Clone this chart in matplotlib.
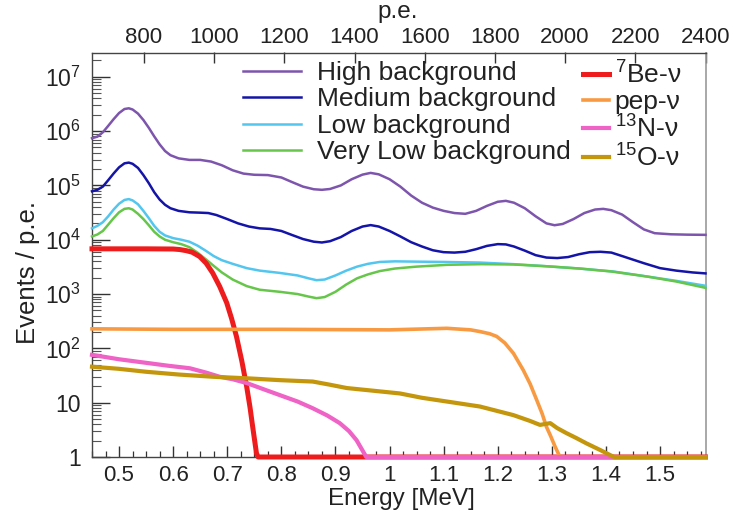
import math
import matplotlib
matplotlib.use("Agg")
import matplotlib.pyplot as plt
from matplotlib.ticker import FixedLocator, MultipleLocator, LogLocator, FuncFormatter, NullFormatter

plt.rcParams['font.family'] = ['Liberation Sans', 'DejaVu Sans']
plt.rcParams['mathtext.fontset'] = 'custom'
plt.rcParams['mathtext.rm'] = 'Liberation Sans'
plt.rcParams['mathtext.it'] = 'Liberation Sans:italic'

# ---------------- data ----------------
high_E = [0.45, 0.46, 0.47, 0.48, 0.49, 0.50, 0.51, 0.518, 0.525, 0.535, 0.545, 0.555, 0.565,
          0.575, 0.585, 0.595, 0.61, 0.63, 0.65, 0.67, 0.69, 0.71, 0.73, 0.75, 0.775, 0.80,
          0.82, 0.84, 0.86, 0.875, 0.89, 0.91, 0.93, 0.95, 0.965, 0.98, 1.0, 1.02, 1.04, 1.06,
          1.08, 1.10, 1.12, 1.14, 1.16, 1.18, 1.20, 1.215, 1.23, 1.25, 1.27, 1.29, 1.305, 1.32,
          1.34, 1.36, 1.38, 1.395, 1.41, 1.43, 1.45, 1.47, 1.49, 1.52, 1.55, 1.584]
high_v = [7.4e5, 7.9e5, 9.5e5, 1.25e6, 1.66e6, 2.15e6, 2.55e6, 2.63e6, 2.5e6, 2.1e6, 1.6e6,
          1.15e6, 8.0e5, 5.7e5, 4.3e5, 3.6e5, 3.15e5, 2.95e5, 2.95e5, 2.75e5, 2.35e5, 1.9e5,
          1.65e5, 1.57e5, 1.55e5, 1.4e5, 1.15e5, 9.5e4, 8.5e4, 8.3e4, 8.6e4, 1.0e5, 1.3e5,
          1.58e5, 1.7e5, 1.6e5, 1.3e5, 9.5e4, 6.5e4, 4.8e4, 3.9e4, 3.4e4, 3.1e4, 3.0e4, 3.4e4,
          4.2e4, 5.0e4, 5.2e4, 4.8e4, 3.8e4, 2.7e4, 2.0e4, 1.85e4, 1.95e4, 2.4e4, 3.1e4, 3.6e4,
          3.7e4, 3.5e4, 2.9e4, 2.1e4, 1.55e4, 1.32e4, 1.26e4, 1.24e4, 1.23e4]

med_E = [0.45, 0.46, 0.47, 0.48, 0.49, 0.50, 0.51, 0.518, 0.525, 0.535, 0.545, 0.555, 0.565,
         0.575, 0.585, 0.595, 0.61, 0.63, 0.65, 0.665, 0.68, 0.70, 0.72, 0.74, 0.76, 0.78, 0.80,
         0.82, 0.84, 0.86, 0.875, 0.89, 0.91, 0.93, 0.95, 0.965, 0.98, 1.0, 1.02, 1.04, 1.06,
         1.08, 1.10, 1.12, 1.14, 1.16, 1.18, 1.20, 1.215, 1.23, 1.25, 1.27, 1.29, 1.31, 1.33,
         1.35, 1.37, 1.39, 1.41, 1.43, 1.45, 1.47, 1.50, 1.53, 1.56, 1.584]
med_v = [7.8e4, 8.3e4, 9.5e4, 1.25e5, 1.66e5, 2.15e5, 2.55e5, 2.63e5, 2.5e5, 2.1e5, 1.55e5,
         1.1e5, 7.5e4, 5.5e4, 4.4e4, 3.8e4, 3.4e4, 3.2e4, 3.15e4, 3.1e4, 2.85e4, 2.4e4, 2.0e4,
         1.75e4, 1.62e4, 1.58e4, 1.45e4, 1.22e4, 1.03e4, 9.2e3, 8.9e3, 9.4e3, 1.12e4, 1.45e4,
         1.75e4, 1.86e4, 1.75e4, 1.45e4, 1.15e4, 9.0e3, 7.5e3, 6.4e3, 5.9e3, 5.8e3, 6.0e3,
         6.7e3, 7.7e3, 8.3e3, 8.2e3, 7.5e3, 6.3e3, 5.2e3, 4.7e3, 4.6e3, 4.8e3, 5.4e3, 5.9e3,
         6.0e3, 5.8e3, 5.0e3, 4.3e3, 3.7e3, 3.0e3, 2.7e3, 2.5e3, 2.4e3]

low_E = [0.45, 0.46, 0.47, 0.48, 0.49, 0.50, 0.51, 0.518, 0.525, 0.535, 0.545, 0.555, 0.565,
         0.575, 0.585, 0.60, 0.615, 0.63, 0.645, 0.66, 0.675, 0.69, 0.71, 0.736, 0.76, 0.797,
         0.83, 0.85, 0.865, 0.88, 0.90, 0.92, 0.94, 0.96, 0.982, 1.01, 1.05, 1.10, 1.167, 1.23,
         1.29, 1.35, 1.414, 1.47, 1.53, 1.584]
low_v = [1.62e4, 1.8e4, 2.1e4, 2.7e4, 3.6e4, 4.6e4, 5.4e4, 5.6e4, 5.3e4, 4.5e4, 3.4e4, 2.5e4,
         1.8e4, 1.4e4, 1.2e4, 1.07e4, 1.0e4, 9.2e3, 7.8e3, 6.3e3, 5.0e3, 4.2e3, 3.6e3, 3.0e3,
         2.7e3, 2.45e3, 2.2e3, 1.95e3, 1.8e3, 1.85e3, 2.2e3, 2.7e3, 3.2e3, 3.6e3, 3.9e3, 4.0e3,
         3.95e3, 3.9e3, 3.8e3, 3.55e3, 3.25e3, 2.95e3, 2.6e3, 2.15e3, 1.75e3, 1.42e3]

vlow_E = [0.45, 0.46, 0.47, 0.48, 0.49, 0.50, 0.51, 0.518, 0.525, 0.535, 0.545, 0.555, 0.565,
          0.575, 0.585, 0.60, 0.615, 0.63, 0.645, 0.66, 0.675, 0.69, 0.71, 0.736, 0.76, 0.797,
          0.83, 0.85, 0.865, 0.88, 0.90, 0.92, 0.94, 0.96, 0.982, 1.01, 1.05, 1.106, 1.17,
          1.229, 1.29, 1.352, 1.41, 1.476, 1.53, 1.584]
vlow_v = [1.15e4, 1.25e4, 1.45e4, 1.9e4, 2.5e4, 3.2e4, 3.7e4, 3.8e4, 3.6e4, 3.0e4, 2.4e4,
          1.85e4, 1.4e4, 1.15e4, 1.0e4, 9.0e3, 8.3e3, 7.3e3, 5.8e3, 4.4e3, 3.3e3, 2.5e3, 1.85e3,
          1.4e3, 1.2e3, 1.1e3, 1.0e3, 900, 840, 880, 1.1e3, 1.5e3, 1.95e3, 2.3e3, 2.65e3,
          2.95e3, 3.2e3, 3.45e3, 3.55e3, 3.5e3, 3.25e3, 2.95e3, 2.6e3, 2.1e3, 1.7e3, 1.3e3]

be7_E = [0.45, 0.55, 0.60, 0.612, 0.624, 0.635, 0.649, 0.661, 0.673, 0.686, 0.699, 0.708,
         0.717, 0.727, 0.736, 0.742, 0.747, 0.754, 0.757, 1.584]
be7_v = [6.8e3, 6.8e3, 6.75e3, 6.6e3, 6.3e3, 5.9e3, 4.9e3, 3.7e3, 2.45e3, 1.38e3, 690, 355,
         166, 58, 19.5, 8.3, 3.6, 1.17, 1, 1]

pep_E = [0.45, 0.60, 0.80, 1.0, 1.106, 1.15, 1.167, 1.185, 1.198, 1.213, 1.229, 1.247, 1.26,
         1.272, 1.282, 1.29, 1.298, 1.306, 1.315, 1.584]
pep_v = [229, 224, 224, 219, 234, 219, 204, 186, 166, 126, 81, 40, 22, 11.2, 6.3, 3.6, 2.4,
         1.55, 1, 1]

n13_E = [0.45, 0.50, 0.551, 0.59, 0.631, 0.66, 0.686, 0.71, 0.736, 0.765, 0.797, 0.83, 0.858,
         0.885, 0.908, 0.925, 0.939, 0.95, 0.957, 1.584]
n13_v = [76, 63, 54, 48, 43, 36, 30, 27, 23, 18, 13.8, 10.5, 7.9, 5.8, 4.2, 3.0, 2.04, 1.32, 1,
         1]

o15_E = [0.45, 0.50, 0.551, 0.61, 0.674, 0.74, 0.797, 0.858, 0.89, 0.921, 0.97, 1.019, 1.06,
         1.106, 1.167, 1.229, 1.26, 1.278, 1.297, 1.31, 1.327, 1.345, 1.364, 1.389, 1.405,
         1.415, 1.584]
o15_v = [46, 42, 37, 33, 30, 28, 26, 24.5, 21.4, 18.6, 16.6, 14.8, 12.3, 10.5, 8.5, 5.9, 4.6,
         3.9, 4.2, 3.4, 2.75, 2.24, 1.78, 1.35, 1.12, 1, 1]

bkg_labels = ["High background", "Medium background", "Low background", "Very Low background"]
sig_labels = [r"$^{7}$Be-ν", "pep-ν", r"$^{13}$N-ν", r"$^{15}$O-ν"]

x_ticks = [0.5, 0.6, 0.7, 0.8, 0.9, 1.0, 1.1, 1.2, 1.3, 1.4, 1.5]
pe_ticks = [800, 1000, 1200, 1400, 1600, 1800, 2000, 2200, 2400]
y_ticks = [1, 10, 1e2, 1e3, 1e4, 1e5, 1e6, 1e7]

# ---------------- figure ----------------
W, H = 733, 518
fig = plt.figure(figsize=(W / 100, H / 100), dpi=100)
L, R, T, B = 92, 705.5, 52.5, 457
ax = fig.add_axes([L / W, 1 - B / H, (R - L) / W, (B - T) / H])

E_MIN, E_MAX = 0.45, 1.584
PE_MIN, PE_MAX = 652, 2400

tc = '#222222'
bkg_series = [(high_E, high_v, '#7d55ad'), (med_E, med_v, '#1414a8'),
              (low_E, low_v, '#52c6ef'), (vlow_E, vlow_v, '#66c64a')]
sig_series = [(be7_E, be7_v, '#ee1c1c', 3.6), (pep_E, pep_v, '#f89a42', 2.6),
              (n13_E, n13_v, '#ef62c6', 3.0), (o15_E, o15_v, '#c4960c', 3.0)]

bkg_lines = []
for (e, v, c), lab in zip(bkg_series, bkg_labels):
    ln, = ax.plot(e, v, color=c, lw=1.8, label=lab, clip_on=False, zorder=3,
                  solid_joinstyle='round')
    bkg_lines.append(ln)
sig_lines = []
for (e, v, c, lw), lab in zip(sig_series, sig_labels):
    ln, = ax.plot(e, v, color=c, lw=lw, label=lab, clip_on=False, zorder=4,
                  solid_joinstyle='round')
    sig_lines.append(ln)

ax.set_yscale('log')
ax.set_xlim(E_MIN, E_MAX)
ax.set_ylim(1, 2.8e7)

ax.xaxis.set_major_locator(FixedLocator(x_ticks))
ax.xaxis.set_minor_locator(MultipleLocator(0.025))
ax.xaxis.set_major_formatter(FuncFormatter(lambda v, p: f"{v:g}"))


def yfmt(v, p):
    if v < 1.5:
        return "1"
    if v < 15:
        return "10"
    return r"$10^{%d}$" % int(round(math.log10(v)))


ax.yaxis.set_major_locator(FixedLocator(y_ticks))
ax.yaxis.set_minor_locator(LogLocator(base=10, subs=[2, 3, 4, 5, 6, 7, 8, 9], numticks=20))
ax.yaxis.set_major_formatter(FuncFormatter(yfmt))
ax.yaxis.set_minor_formatter(NullFormatter())

ax.tick_params(axis='x', which='major', direction='in', length=8, width=1, color='#333',
               labelsize=16, pad=6, top=False, labelcolor=tc)
ax.tick_params(axis='x', which='minor', direction='in', length=4, width=0.9, color='#333',
               top=False)
ax.tick_params(axis='y', which='major', direction='in', length=13, width=1, color='#333',
               labelsize=16.5, pad=8, right=False, labelcolor=tc)
ax.tick_params(axis='y', which='minor', direction='in', length=6.5, width=0.8, color='#555',
               right=False)

for s in ['left', 'bottom', 'top']:
    ax.spines[s].set_color('#444')
    ax.spines[s].set_linewidth(1.0)
ax.spines['right'].set_color('#999')
ax.spines['right'].set_linewidth(1.2)


def e2pe(e):
    return PE_MIN + (e - E_MIN) * (PE_MAX - PE_MIN) / (E_MAX - E_MIN)


def pe2e(p):
    return E_MIN + (p - PE_MIN) * (E_MAX - E_MIN) / (PE_MAX - PE_MIN)


sec = ax.secondary_xaxis('top', functions=(e2pe, pe2e))
sec.set_xticks(pe_ticks)
sec.xaxis.set_major_formatter(FuncFormatter(lambda v, p: f"{v:.0f}"))
sec.tick_params(axis='x', which='major', direction='in', length=8, width=1, color='#333',
                labelsize=16, pad=3, labelcolor=tc)
sec.tick_params(axis='x', which='minor', length=0)
sec.spines['top'].set_visible(False)

fig.text(401 / W, 1 - 499 / H, "Energy [MeV]", ha='center', va='center', fontsize=17.5, color=tc)
fig.text(28 / W, 1 - 272 / H, "Events / p.e.", ha='center', va='center', rotation=90,
         fontsize=18.5, color=tc)
fig.text(398 / W, 1 - 12 / H, "p.e.", ha='center', va='center', fontsize=17.5, color=tc)

leg1 = ax.legend(handles=bkg_lines, loc='upper left',
                 bbox_to_anchor=(243 / W, 1 - 61 / H), bbox_transform=fig.transFigure,
                 frameon=False, fontsize=19, handlelength=2.2, handletextpad=0.6,
                 labelspacing=0.09, borderpad=0, borderaxespad=0)
for t in leg1.get_texts():
    t.set_color(tc)
ax.add_artist(leg1)
leg2 = ax.legend(handles=sig_lines, loc='upper left',
                 bbox_to_anchor=(583 / W, 1 - 61 / H), bbox_transform=fig.transFigure,
                 frameon=False, fontsize=19, handlelength=1.0, handletextpad=0.2,
                 labelspacing=0.06, borderpad=0, borderaxespad=0)
for t in leg2.get_texts():
    t.set_color(tc)

fig.savefig("out.png", dpi=100, facecolor='white')
